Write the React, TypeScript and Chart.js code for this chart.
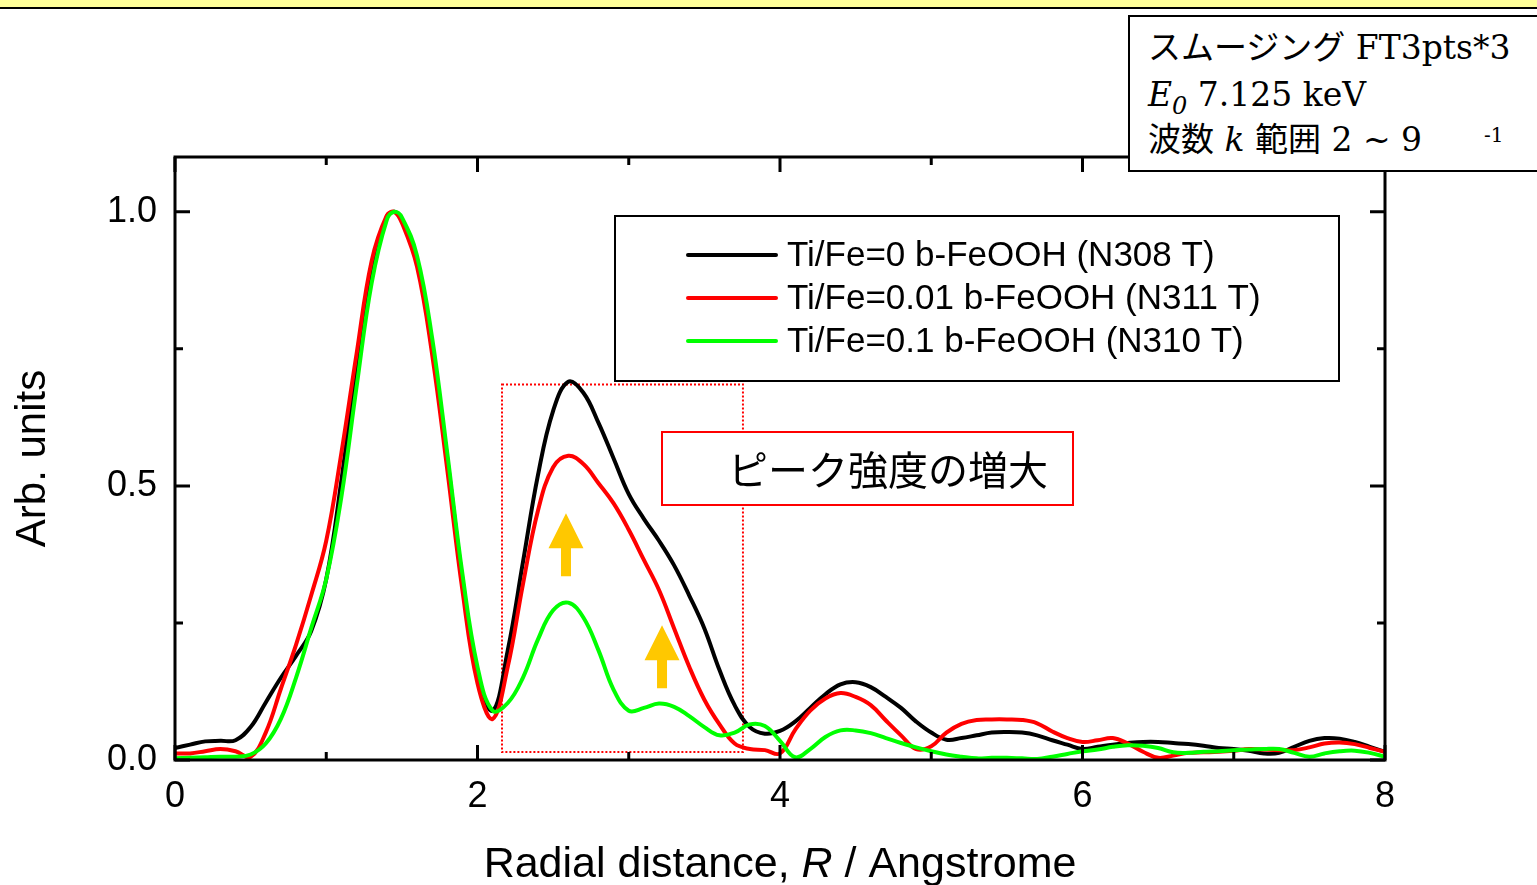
import React, { useEffect, useRef } from 'react';
import { Chart, registerables } from 'chart.js';

Chart.register(...registerables);

// ---------- data ----------
const radialDistance = [
  0.0, 0.1, 0.2, 0.3, 0.4, 0.5, 0.6, 0.7, 0.8, 0.9,
  1.0, 1.1, 1.2, 1.3, 1.4, 1.45, 1.5, 1.6, 1.7, 1.8, 1.9,
  2.0, 2.1, 2.2, 2.3, 2.4, 2.5, 2.6, 2.7, 2.8, 2.9,
  3.0, 3.1, 3.2, 3.3, 3.4, 3.5, 3.6, 3.7, 3.8, 3.9,
  4.0, 4.1, 4.2, 4.3, 4.4, 4.5, 4.6, 4.7, 4.8, 4.9,
  5.0, 5.1, 5.2, 5.3, 5.4, 5.5, 5.6, 5.7, 5.8, 5.9,
  6.0, 6.1, 6.2, 6.3, 6.4, 6.5, 6.6, 6.7, 6.8, 6.9,
  7.0, 7.1, 7.2, 7.3, 7.4, 7.5, 7.6, 7.7, 7.8, 7.9,
  8.0,
];

const seriesN308 = [
  0.022, 0.028, 0.034, 0.035, 0.036, 0.06, 0.105, 0.15, 0.19, 0.235,
  0.33, 0.51, 0.72, 0.9, 0.99, 1.0, 0.985, 0.91, 0.75, 0.55, 0.33,
  0.16, 0.09, 0.2, 0.36, 0.52, 0.637, 0.69, 0.67, 0.615, 0.55,
  0.485, 0.44, 0.4, 0.355, 0.3, 0.24, 0.164, 0.1, 0.06, 0.048,
  0.053, 0.07, 0.095, 0.12, 0.138, 0.142, 0.133, 0.115, 0.095, 0.07,
  0.05, 0.037, 0.04, 0.045, 0.05, 0.051, 0.05, 0.045, 0.036, 0.028,
  0.02, 0.024, 0.028, 0.031, 0.033, 0.033, 0.031, 0.029, 0.026, 0.022,
  0.02, 0.017, 0.012, 0.013, 0.024, 0.035, 0.04, 0.039, 0.033, 0.024,
  0.015,
];

const seriesN311 = [
  0.012, 0.012, 0.016, 0.02, 0.016, 0.006, 0.05, 0.13, 0.21, 0.3,
  0.4, 0.56, 0.74, 0.91, 0.993, 1.0, 0.98, 0.9, 0.74, 0.53, 0.31,
  0.14, 0.075, 0.17, 0.32, 0.455, 0.534, 0.555, 0.54, 0.505, 0.468,
  0.42, 0.365, 0.31, 0.24, 0.17, 0.11, 0.065, 0.03, 0.02, 0.018,
  0.012, 0.055, 0.09, 0.112, 0.122, 0.115, 0.1, 0.072, 0.045, 0.02,
  0.025, 0.05, 0.066, 0.073, 0.074, 0.074, 0.073, 0.067, 0.052, 0.04,
  0.033, 0.036, 0.04, 0.03, 0.015, 0.004, 0.008, 0.013, 0.014, 0.015,
  0.017, 0.02, 0.019, 0.018, 0.018, 0.023, 0.03, 0.032, 0.029, 0.022,
  0.015,
];

const seriesN310 = [
  0.003, 0.004, 0.005, 0.006, 0.006, 0.01, 0.03, 0.075, 0.15, 0.24,
  0.33, 0.48, 0.68, 0.87, 0.985, 1.0, 0.99, 0.92, 0.77, 0.56, 0.34,
  0.17, 0.09, 0.104, 0.15, 0.22, 0.273, 0.287, 0.26, 0.2, 0.128,
  0.09, 0.095, 0.103, 0.097, 0.08, 0.06, 0.045, 0.05, 0.065, 0.062,
  0.035, 0.005, 0.02, 0.042, 0.054, 0.054, 0.049, 0.04, 0.031, 0.023,
  0.016, 0.01, 0.006, 0.003, 0.004, 0.004, 0.003, 0.002, 0.006, 0.011,
  0.016, 0.019, 0.024, 0.027, 0.026, 0.022, 0.014, 0.013, 0.015, 0.016,
  0.018, 0.019, 0.02, 0.02, 0.013, 0.006, 0.012, 0.016, 0.017, 0.013,
  0.006,
];

const seriesLabels = [
  'Ti/Fe=0 b-FeOOH (N308 T)',
  'Ti/Fe=0.01 b-FeOOH (N311 T)',
  'Ti/Fe=0.1 b-FeOOH (N310 T)',
];

const xMajorTicks = [0, 2, 4, 6, 8];
const xMinorTicks = [1, 3, 5, 7];
const yMajorTicks = [0, 0.5, 1.0];
const yMinorTicks = [0.25, 0.75];

// highlighted region (data coordinates) and arrows
const highlightRange = [2.162, 3.755];
const highlightLevels = [0.0146, 0.685];
const arrowPositions = [2.585, 3.22];
const arrowTips = [0.45, 0.246];
const arrowTails = [0.335, 0.131];

const annotationText = 'ピーク強度の増大';

// ---------- styles ----------
const SANS = "'Liberation Sans', Arial, sans-serif";
const COLORS = ['#000000', '#FF0000', '#00FF00'];

const decorPlugin = {
  id: 'decor',
  beforeDatasetsDraw(chart: any) {
    const { ctx, scales } = chart;
    const x = scales.x;
    const y = scales.y;
    ctx.save();
    ctx.strokeStyle = '#FF0000';
    ctx.lineWidth = 2;
    ctx.setLineDash([2, 2]);
    const l = x.getPixelForValue(highlightRange[0]);
    const r = x.getPixelForValue(highlightRange[1]);
    const t = y.getPixelForValue(highlightLevels[1]);
    const b = y.getPixelForValue(highlightLevels[0]);
    ctx.strokeRect(l, t, r - l, b - t);
    ctx.restore();
  },
  afterDatasetsDraw(chart: any) {
    const { ctx, scales, chartArea } = chart;
    const x = scales.x;
    const y = scales.y;
    const { left, right, top, bottom } = chartArea;
    ctx.save();

    // frame
    ctx.strokeStyle = '#000';
    ctx.lineWidth = 3;
    ctx.setLineDash([]);
    ctx.strokeRect(left, top, right - left, bottom - top);

    // inward ticks on all four sides
    const major = 15;
    const minor = 8;
    ctx.lineWidth = 3;
    const vTick = (v: number, len: number) => {
      const px = x.getPixelForValue(v);
      ctx.beginPath();
      ctx.moveTo(px, bottom);
      ctx.lineTo(px, bottom - len);
      ctx.moveTo(px, top);
      ctx.lineTo(px, top + len);
      ctx.stroke();
    };
    const hTick = (v: number, len: number) => {
      const py = y.getPixelForValue(v);
      ctx.beginPath();
      ctx.moveTo(left, py);
      ctx.lineTo(left + len, py);
      ctx.moveTo(right, py);
      ctx.lineTo(right - len, py);
      ctx.stroke();
    };
    xMajorTicks.forEach((v) => vTick(v, major));
    xMinorTicks.forEach((v) => vTick(v, minor));
    yMajorTicks.forEach((v) => hTick(v, major));
    yMinorTicks.forEach((v) => hTick(v, minor));

    // arrows
    ctx.fillStyle = '#FFC800';
    arrowPositions.forEach((av, i) => {
      const cx = x.getPixelForValue(av);
      const tipY = y.getPixelForValue(arrowTips[i]);
      const tailY = y.getPixelForValue(arrowTails[i]);
      const headH = 35;
      const headW = 17.5;
      const shaftW = 5;
      ctx.beginPath();
      ctx.moveTo(cx, tipY);
      ctx.lineTo(cx + headW, tipY + headH);
      ctx.lineTo(cx + shaftW, tipY + headH);
      ctx.lineTo(cx + shaftW, tailY);
      ctx.lineTo(cx - shaftW, tailY);
      ctx.lineTo(cx - shaftW, tipY + headH);
      ctx.lineTo(cx - headW, tipY + headH);
      ctx.closePath();
      ctx.fill();
    });

    // red annotation box
    ctx.fillStyle = '#fff';
    ctx.fillRect(662, 432, 411, 73);
    ctx.strokeStyle = '#FF0000';
    ctx.lineWidth = 2;
    ctx.strokeRect(662, 432, 411, 73);
    ctx.fillStyle = '#000';
    ctx.font = "40px 'Noto Sans CJK JP', sans-serif";
    ctx.textAlign = 'left';
    ctx.textBaseline = 'middle';
    ctx.fillText(annotationText, 728, 470);

    // legend
    ctx.fillStyle = '#fff';
    ctx.fillRect(615, 216, 724, 165);
    ctx.strokeStyle = '#000';
    ctx.lineWidth = 2;
    ctx.strokeRect(615, 216, 724, 165);
    ctx.font = `35px ${SANS}`;
    ctx.textBaseline = 'middle';
    chart.data.datasets.forEach((ds: any, i: number) => {
      const ly = 255 + i * 43;
      ctx.strokeStyle = ds.borderColor;
      ctx.lineWidth = 4;
      ctx.lineCap = 'round';
      ctx.beginPath();
      ctx.moveTo(688, ly);
      ctx.lineTo(776, ly);
      ctx.stroke();
      ctx.fillStyle = '#000';
      ctx.fillText(ds.label, 787, ly + 1);
    });
    ctx.lineCap = 'butt';

    // x-axis title with italic R
    const parts = [
      { t: 'Radial distance, ', f: `43px ${SANS}` },
      { t: 'R', f: `italic 43px ${SANS}` },
      { t: ' / Angstrome', f: `43px ${SANS}` },
    ];
    let total = 0;
    parts.forEach((p) => {
      ctx.font = p.f;
      total += ctx.measureText(p.t).width;
    });
    let cx = (left + right) / 2 - total / 2;
    ctx.fillStyle = '#000';
    ctx.textBaseline = 'alphabetic';
    parts.forEach((p) => {
      ctx.font = p.f;
      ctx.fillText(p.t, cx, 877);
      cx += ctx.measureText(p.t).width;
    });

    ctx.restore();
  },
};

export default function App() {
  const canvasRef = useRef<HTMLCanvasElement | null>(null);

  useEffect(() => {
    if (!canvasRef.current) return;
    const seriesValues = [seriesN308, seriesN311, seriesN310];
    const chart = new Chart(canvasRef.current, {
      type: 'line',
      data: {
        datasets: seriesValues.map((vals, i) => ({
          label: seriesLabels[i],
          data: radialDistance.map((r, j) => ({ x: r, y: vals[j] })),
          borderColor: COLORS[i],
          backgroundColor: COLORS[i],
          borderWidth: 4,
          pointRadius: 0,
          fill: false,
          tension: 0.4,
          order: 3 - i,
        })),
      },
      options: {
        animation: false,
        responsive: false,
        devicePixelRatio: 1,
        layout: { padding: { top: 157, right: 152, left: 0, bottom: 0 } },
        plugins: {
          legend: { display: false },
          tooltip: { enabled: false },
        },
        scales: {
          x: {
            type: 'linear',
            min: 0,
            max: 8,
            afterFit: (s: any) => {
              s.height = 125;
            },
            afterBuildTicks: (s: any) => {
              s.ticks = xMajorTicks.map((v) => ({ value: v }));
            },
            grid: { display: false, drawTicks: false },
            border: { display: false },
            ticks: {
              padding: 15,
              color: '#000',
              font: { family: SANS, size: 36 },
              callback: (v: any) => String(v),
            },
          },
          y: {
            type: 'linear',
            min: 0,
            max: 1.1,
            afterFit: (s: any) => {
              s.width = 175;
            },
            afterBuildTicks: (s: any) => {
              s.ticks = yMajorTicks.map((v) => ({ value: v }));
            },
            grid: { display: false, drawTicks: false },
            border: { display: false },
            ticks: {
              padding: 18,
              color: '#000',
              font: { family: SANS, size: 36 },
              callback: (v: any) => Number(v).toFixed(1),
            },
            title: {
              display: true,
              text: 'Arb. units',
              color: '#000',
              font: { family: SANS, size: 42 },
              padding: { top: 8, bottom: 0 },
            },
          },
        },
      },
      plugins: [decorPlugin],
    } as any);
    return () => chart.destroy();
  }, []);

  const serif = "'DejaVu Serif', 'Noto Sans CJK JP', serif";

  return (
    <div
      style={{
        position: 'absolute',
        left: 0,
        top: 0,
        width: 1537,
        height: 885,
        overflow: 'hidden',
        background: '#fff',
      }}
    >
      <canvas
        ref={canvasRef}
        width={1537}
        height={885}
        style={{ position: 'absolute', left: 0, top: 0, display: 'block' }}
      />
      <div
        style={{
          position: 'absolute',
          left: 0,
          top: 0,
          width: 1537,
          height: 7,
          background: '#FFFF99',
          borderBottom: '2px solid #000',
        }}
      />
      <div
        style={{
          position: 'absolute',
          left: 1128,
          top: 15,
          width: 440,
          height: 157,
          boxSizing: 'border-box',
          border: '2px solid #000',
          background: '#fff',
          fontFamily: serif,
          fontSize: 33,
          color: '#000',
          whiteSpace: 'nowrap',
        }}
      >
        <div style={{ position: 'absolute', left: 18, top: 11, lineHeight: '40px' }}>
          スムージング FT3pts*3
        </div>
        <div style={{ position: 'absolute', left: 18, top: 58, lineHeight: '40px' }}>
          <span style={{ fontStyle: 'italic' }}>E</span>
          <sub style={{ fontStyle: 'italic', fontSize: 24, verticalAlign: '-8px' }}>0</sub>
          <span> 7.125 keV</span>
        </div>
        <div style={{ position: 'absolute', left: 18, top: 103, lineHeight: '40px' }}>
          波数 <span style={{ fontStyle: 'italic' }}>k</span> 範囲 2 ~ 9
        </div>
        <div
          style={{
            position: 'absolute',
            left: 354,
            top: 106,
            fontSize: 20,
            lineHeight: '24px',
          }}
        >
          -1
        </div>
      </div>
    </div>
  );
}
